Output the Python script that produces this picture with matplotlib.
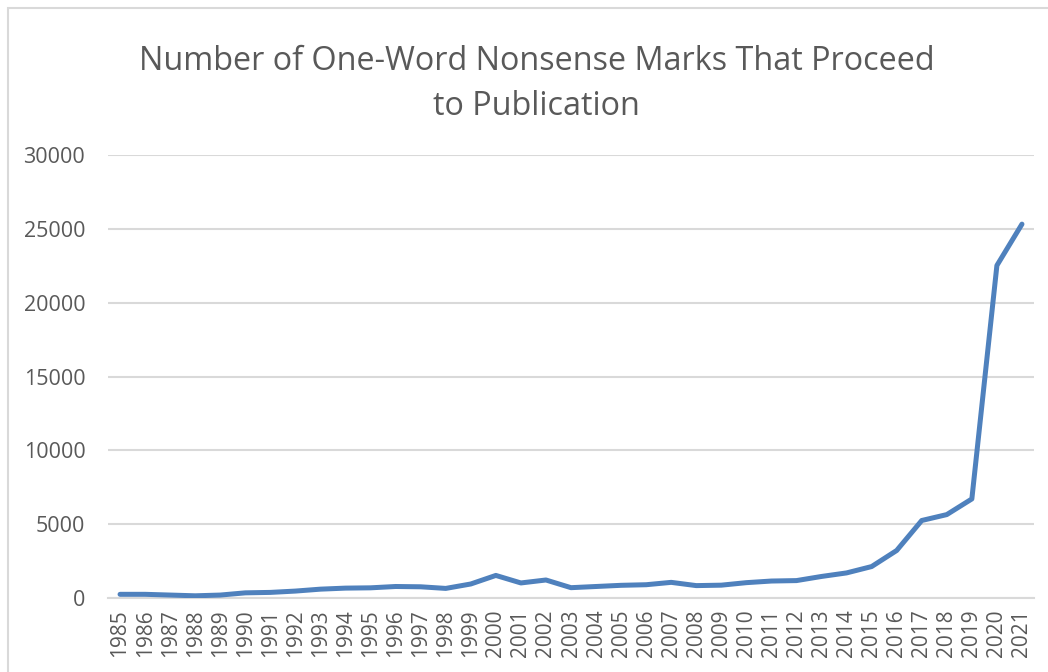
import matplotlib.pyplot as plt
from matplotlib.patches import Rectangle

# values
years = [str(y) for y in range(1985, 2022)]
marks = [250, 250, 200, 150, 200, 350, 380, 470, 600, 670,
         690, 780, 760, 650, 950, 1530, 1020, 1220, 700, 780,
         860, 900, 1060, 840, 870, 1040, 1150, 1180, 1460, 1700,
         2130, 3220, 5250, 5650, 6710, 22520, 25320]
y_ticks = [0, 5000, 10000, 15000, 20000, 25000, 30000]

title = "Number of One-Word Nonsense Marks That Proceed\nto Publication"
line_color = "#4f81bd"
text_color = "#595959"
grid_color = "#d9d9d9"

plt.rcParams['font.family'] = ['Open Sans', 'DejaVu Sans']

fig = plt.figure(figsize=(10.48, 6.72), dpi=100)
ax = fig.add_axes([0.1026, 0.1101, 0.8845, 0.6592])

# chart area border
fig.patches.append(Rectangle((8 / 1048, -0.05), 1.1, (672 - 8) / 672 + 0.05,
                             transform=fig.transFigure, fill=False,
                             edgecolor=grid_color, linewidth=1.5))

x = list(range(len(years)))
ax.plot(x, marks, color=line_color, linewidth=3.6, solid_capstyle='round',
        solid_joinstyle='round', zorder=3)

ax.set_xlim(-0.5, len(years) - 0.5)
ax.set_ylim(0, 30000)
ax.set_yticks(y_ticks)
ax.set_yticklabels([str(v) for v in y_ticks])
ax.set_xticks(x)
ax.set_xticklabels(years, rotation=90)

ax.tick_params(axis='both', length=0, colors=text_color)
ax.tick_params(axis='y', pad=16, labelsize=15.5)
ax.tick_params(axis='x', pad=8, labelsize=15)

ax.grid(axis='y', color=grid_color, linewidth=1.5)
ax.set_axisbelow(True)
for s in ['top', 'right', 'left']:
    ax.spines[s].set_visible(False)
ax.spines['bottom'].set_color(grid_color)
ax.spines['bottom'].set_linewidth(1.5)

fig.text(0.512, 0.875, title, ha='center', va='center', fontsize=23.3,
         color=text_color, linespacing=1.5)

fig.savefig('out.png', dpi=100)
